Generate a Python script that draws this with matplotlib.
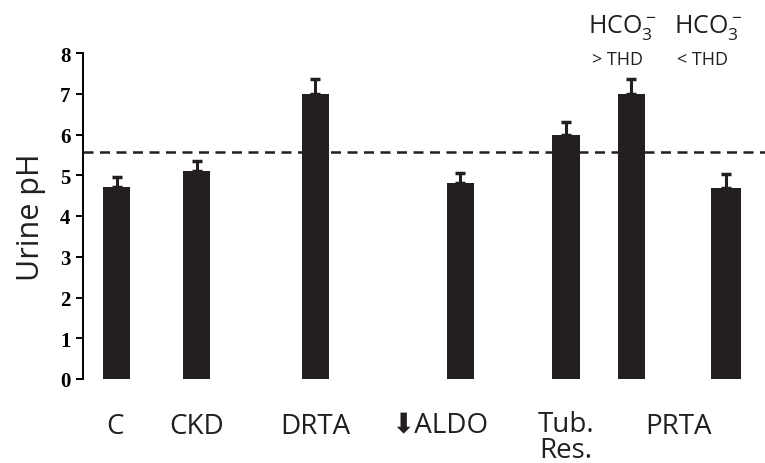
import matplotlib
matplotlib.use("AGG")
from matplotlib import pyplot as plt
import numpy as np

# data
categories = ["C", "CKD", "DRTA", "ALDO", "Tub. Res.", "PRTA >THD", "PRTA <THD"]
ph_mean = [4.70, 5.10, 7.00, 4.80, 6.00, 7.00, 4.68]
ph_err = [0.25, 0.25, 0.35, 0.25, 0.30, 0.36, 0.35]
threshold = 5.56
yticks = [0, 1, 2, 3, 4, 5, 6, 7, 8]

# layout (x units of ~40 px)
xpos = np.array([0.84, 2.84, 5.81, 9.43, 12.08, 13.71, 16.08])
widths = [0.68, 0.68, 0.68, 0.68, 0.70, 0.68, 0.75]

plt.rcParams['mathtext.fontset'] = 'custom'
plt.rcParams['mathtext.rm'] = 'Open Sans'
plt.rcParams['mathtext.it'] = 'Open Sans'

fig = plt.figure(figsize=(7.65, 4.64), dpi=100)
ax = fig.add_axes([83 / 765, (464 - 380) / 464, 682 / 765, 326 / 464])

barcol = "#231f20"
ax.bar(xpos, ph_mean, width=widths, color=barcol, zorder=2)
ax.errorbar(xpos, ph_mean, yerr=[np.zeros(len(ph_err)), ph_err], fmt="none",
            ecolor=barcol, elinewidth=2.2, capsize=3.6, capthick=2.5, zorder=2)
ax.axhline(threshold, color=barcol, lw=1.8, dashes=(4, 2.6), zorder=3)

ax.set_xlim(0, 17.05)
ax.set_ylim(0, 8)
ax.set_yticks(yticks)
ax.set_yticklabels([str(t) for t in yticks], family="Liberation Serif",
                   fontweight="bold", fontsize=15)
ax.tick_params(axis="y", direction="out", length=5, width=1.4, pad=4)
ax.set_xticks([])
for s in ["top", "right", "bottom"]:
    ax.spines[s].set_visible(False)
ax.spines["left"].set_linewidth(1.4)

ax.set_ylabel("Urine pH", family="Open Sans", fontsize=22, labelpad=10,
              color="#231f20")

lab_kw = dict(family=["Open Sans", "DejaVu Sans"], fontsize=20,
              color="#231f20", ha="center", va="top",
              transform=ax.get_xaxis_transform())
ax.text(xpos[0] - 0.05, -0.1, "C", **lab_kw)
ax.text(xpos[1], -0.1, "CKD", **lab_kw)
ax.text(xpos[2], -0.1, "DRTA", **lab_kw)
ax.text(xpos[3] - 0.5, -0.1, "\u2b07ALDO", **lab_kw)
ax.text(xpos[4], -0.095, "Tub.\nRes.", linespacing=0.92, **lab_kw)
ax.text((xpos[5] + xpos[6]) / 2, -0.1, "PRTA", **lab_kw)

top_kw = dict(family="Open Sans", color="#231f20", ha="center",
              transform=ax.get_xaxis_transform())
ax.text(13.47, 1.0 + 27 / 326, r"HCO$_3^-$", fontsize=18,
        va="center", **top_kw)
ax.text(15.63, 1.0 + 27 / 326, r"HCO$_3^-$", fontsize=18,
        va="center", **top_kw)
ax.text(13.35, 1.0 - 6 / 326, "> THD", fontsize=13,
        va="center", **top_kw)
ax.text(15.48, 1.0 - 6 / 326, "< THD", fontsize=13,
        va="center", **top_kw)

fig.savefig("out.png", dpi=100)
